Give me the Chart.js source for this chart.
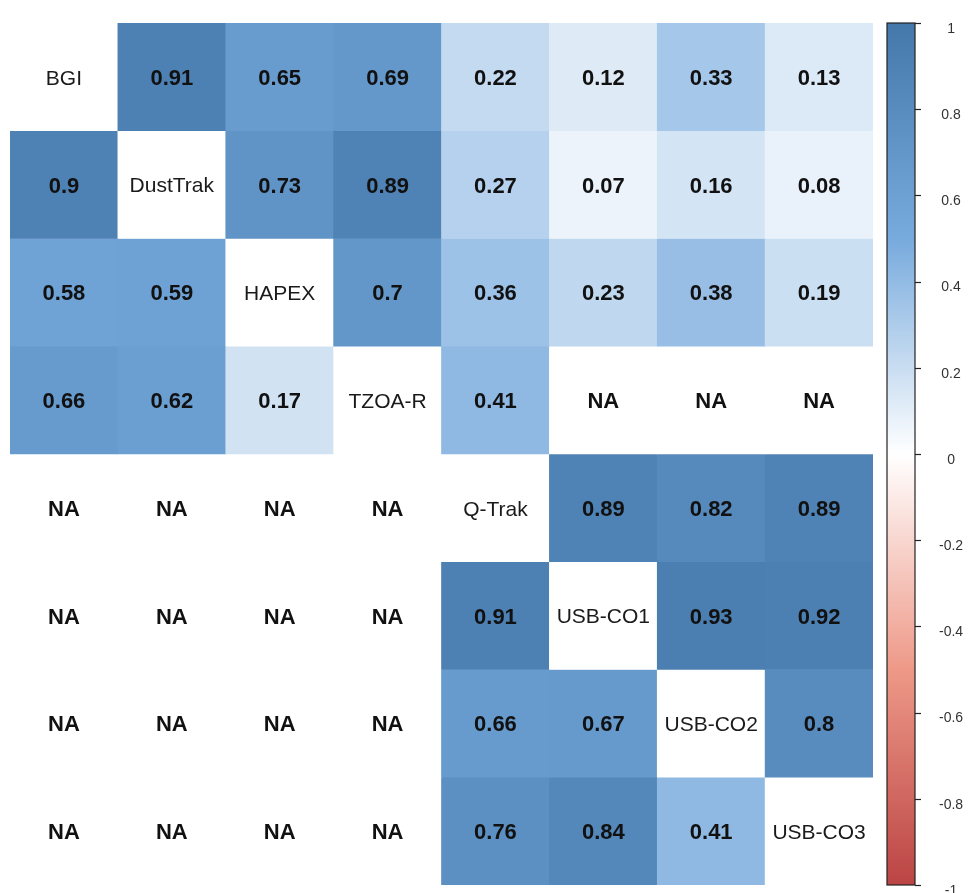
<!DOCTYPE html>
<html><head><meta charset="utf-8">
<script src="https://cdn.jsdelivr.net/npm/chart.js@4/dist/chart.umd.min.js"></script>
<style>html,body{margin:0;padding:0;background:#fff}#wrap{width:972px;height:893px}</style>
</head><body><div id="wrap"><canvas id="c"></canvas></div>
<script>
const variables = ['BGI','DustTrak','HAPEX','TZOA-R','Q-Trak','USB-CO1','USB-CO2','USB-CO3'];
// null = diagonal (name shown) or NA
const rowBGI      = [null, 0.91, 0.65, 0.69, 0.22, 0.12, 0.33, 0.13];
const rowDustTrak = [0.9,  null, 0.73, 0.89, 0.27, 0.07, 0.16, 0.08];
const rowHAPEX    = [0.58, 0.59, null, 0.7,  0.36, 0.23, 0.38, 0.19];
const rowTZOA     = [0.66, 0.62, 0.17, null, 0.41, null, null, null];
const rowQTrak    = [null, null, null, null, null, 0.89, 0.82, 0.89];
const rowUSBCO1   = [null, null, null, null, 0.91, null, 0.93, 0.92];
const rowUSBCO2   = [null, null, null, null, 0.66, 0.67, null, 0.8];
const rowUSBCO3   = [null, null, null, null, 0.76, 0.84, 0.41, null];
const colorbarTicks = [1, 0.8, 0.6, 0.4, 0.2, 0, -0.2, -0.4, -0.6, -0.8, -1];
const paletteStops = ['#BB4444', '#EE9988', '#FFFFFF', '#77AADD', '#4477AA'];

const matrix = [rowBGI, rowDustTrak, rowHAPEX, rowTZOA, rowQTrak, rowUSBCO1, rowUSBCO2, rowUSBCO3];

function hexToRgb(h){ h=h.replace('#',''); return [0,2,4].map(i=>parseInt(h.substr(i,2),16)); }
function corrColor(v){
  const t = (v + 1) / 2 * 4;
  const i = Math.max(0, Math.min(3, Math.floor(t)));
  const f = t - i;
  const a = hexToRgb(paletteStops[i]), b = hexToRgb(paletteStops[i+1]);
  const c = a.map((x,k)=>Math.round(x + (b[k]-x)*f));
  return `rgb(${c[0]},${c[1]},${c[2]})`;
}

const datasets = matrix.map((row, r) => ({
  label: variables[r],
  data: variables.map(() => [r, r + 1]),
  backgroundColor: row.map((v, c) => (r === c || v === null) ? '#ffffff' : corrColor(v)),
  borderWidth: 0,
  barPercentage: 1,
  categoryPercentage: 1,
  grouped: false
}));

const cellText = {
  id: 'cellText',
  afterDatasetsDraw(chart){
    const {ctx, scales:{x, y}} = chart;
    ctx.save();
    ctx.textAlign = 'center';
    ctx.textBaseline = 'middle';
    matrix.forEach((row, r) => {
      const cy = (y.getPixelForValue(r) + y.getPixelForValue(r + 1)) / 2 + 2;
      row.forEach((v, c) => {
        const cx = x.getPixelForValue(c);
        if (r === c) {
          ctx.font = '21px "Liberation Sans", Arial, sans-serif';
          ctx.fillStyle = '#1a1a1a';
          ctx.fillText(variables[r], cx, cy);
        } else {
          ctx.font = 'bold 22px "Liberation Sans", Arial, sans-serif';
          ctx.fillStyle = '#111111';
          ctx.fillText(v === null ? 'NA' : String(v), cx, cy);
        }
      });
    });
    ctx.restore();
  }
};

const colorBar = {
  id: 'colorBar',
  afterDraw(chart){
    const s = chart.scales.cb;
    const {ctx} = chart;
    const top = s.getPixelForValue(1), bot = s.getPixelForValue(-1);
    const x0 = s.left + 14, x1 = s.left + 42;
    const g = ctx.createLinearGradient(0, bot, 0, top);
    paletteStops.forEach((c, i) => g.addColorStop(i / (paletteStops.length - 1), c));
    ctx.save();
    ctx.fillStyle = g;
    ctx.fillRect(x0, top, x1 - x0, bot - top);
    ctx.strokeStyle = '#222';
    ctx.lineWidth = 1.2;
    ctx.strokeRect(x0, top, x1 - x0, bot - top);
    colorbarTicks.forEach(v => {
      const py = Math.round(s.getPixelForValue(v)) + 0.5;
      ctx.beginPath();
      ctx.moveTo(x1, py);
      ctx.lineTo(x1 + 6, py);
      ctx.stroke();
    });
    ctx.restore();
  }
};

new Chart(document.getElementById('c'), {
  type: 'bar',
  data: { labels: variables, datasets },
  options: {
    responsive: true,
    maintainAspectRatio: false,
    animation: false,
    layout: { padding: { left: 10, top: 23, right: 0, bottom: 8 } },
    plugins: { legend: { display: false }, tooltip: { enabled: false } },
    scales: {
      x: { type: 'category', display: false, offset: true },
      y: { type: 'linear', min: 0, max: 8, reverse: true, display: false },
      cb: {
        type: 'linear', axis: 'y', position: 'right', min: -1, max: 1,
        grid: { display: false, drawTicks: false },
        border: { display: false },
        afterBuildTicks(scale){ scale.ticks = colorbarTicks.map(v => ({value: v})); },
        afterFit(scale){ scale.width = 99; scale.paddingTop = 0; scale.paddingBottom = 0; },
        ticks: {
          padding: 66, crossAlign: 'center', labelOffset: 6,
          color: '#333', font: { family: '"Liberation Sans", Arial, sans-serif', size: 14 },
          callback: (v) => String(v)
        }
      }
    }
  },
  plugins: [cellText, colorBar]
});
</script>
</body></html>
